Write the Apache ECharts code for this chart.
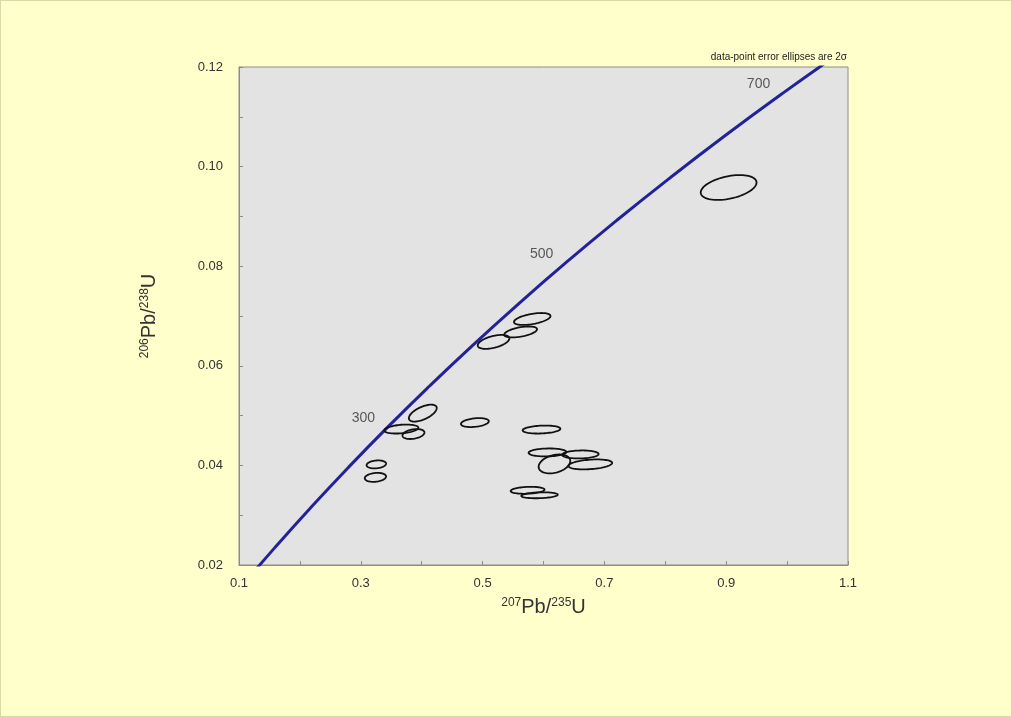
<!DOCTYPE html>
<html>
<head>
<meta charset="utf-8">
<script src="https://cdn.jsdelivr.net/npm/echarts@6/dist/echarts.min.js"></script>
<style>
html,body{margin:0;padding:0;background:#ffffcc;}
#chart{width:1012px;height:717px;box-sizing:border-box;border:1px solid #d9d9a6;}
</style>
</head>
<body>
<div id="chart"></div>
<script>
// Concordia curve points: [207Pb/235U, 206Pb/238U]
const concordiaX = [0.10350,0.15920,0.21771,0.27917,0.34374,0.41156,0.48281,0.55766,0.63628,0.71887,0.80563,0.89677,0.99251,1.09308];
const concordiaY = [0.01563,0.02354,0.03151,0.03954,0.04764,0.05579,0.06402,0.07230,0.08065,0.08906,0.09754,0.10609,0.11470,0.12338];
// Age labels on concordia
const ageLabels = ['300','500','700'];
const ageX = [0.34374,0.63628,0.99251];
const ageY = [0.04764,0.08065,0.11470];
// Error ellipses: centre x, centre y, 2-sigma x, 2-sigma y, correlation
const ellX   = [0.904, 0.5815,0.5624,0.518, 0.4018,0.3665,0.3865,0.3255,0.3240,0.4873,0.5967,0.6065,0.6180,0.6605,0.6768,0.5739,0.5935];
const ellY   = [0.0958,0.0694,0.0668,0.0648,0.0505,0.0473,0.0463,0.0402,0.0376,0.0486,0.0472,0.0426,0.0403,0.0422,0.0402,0.0350,0.0340];
const ellSX  = [0.0458,0.0300,0.0270,0.0260,0.0229,0.0280,0.0180,0.0160,0.0175,0.0229,0.0310,0.0310,0.0260,0.0300,0.0360,0.0278,0.0300];
const ellSY  = [0.0025,0.0012,0.0011,0.0014,0.0017,0.0009,0.0010,0.0008,0.0009,0.0009,0.0008,0.0008,0.0019,0.0008,0.0010,0.0007,0.0006];
const ellRho = [0.4, 0.5, 0.5, 0.5, 0.6, 0.3, 0.3, 0.2, 0.2, 0.3, 0.2, 0.1, 0.3, 0.1, 0.3, 0.2, 0.2];

const curve = concordiaX.map((x,i)=>[x, concordiaY[i]]);
const ages = ageX.map((x,i)=>({value:[x, ageY[i]], name: ageLabels[i]}));
const ells = ellX.map((x,i)=>[x, ellY[i], ellSX[i], ellSY[i], ellRho[i]]);

const chart = echarts.init(document.getElementById('chart'), null, {renderer:'canvas'});
const txt = '#333333';
chart.setOption({
  backgroundColor: '#ffffcc',
  animation: false,
  grid: {left: 238, right: 163, top: 66, bottom: 151, show: true, backgroundColor: '#e3e3e3', borderColor: '#8c8c8c', borderWidth: 1},
  graphic: [{
    type: 'text', right: 164, top: 51,
    style: {text: 'data-point error ellipses are 2σ', fontSize: 10, fill: '#222', fontFamily: 'Liberation Sans, Arial, sans-serif'}
  }],
  xAxis: {
    type: 'value', min: 0.1, max: 1.1, interval: 0.1,
    axisLine: {show: true, onZero: false, lineStyle: {color: '#8c8c8c'}},
    axisTick: {show: true, inside: true, length: 4, lineStyle: {color: '#8c8c8c'}},
    splitLine: {show: false},
    axisLabel: {
      color: txt, fontSize: 13, margin: 12, fontFamily: 'Liberation Sans, Arial, sans-serif',
      formatter: v => (Math.round(v*10) % 2 === 1) ? v.toFixed(1) : ''
    },
    name: '{sup|207}{main|Pb/}{sup|235}{main|U}', nameLocation: 'middle', nameGap: 32,
    nameTextStyle: {
      rich: {
        main: {fontSize: 20, color: txt, fontFamily: 'Liberation Sans, Arial, sans-serif', verticalAlign: 'bottom'},
        sup: {fontSize: 12, color: txt, fontFamily: 'Liberation Sans, Arial, sans-serif', verticalAlign: 'top', padding: [0,0,8,0]}
      }
    }
  },
  yAxis: {
    type: 'value', min: 0.02, max: 0.12, interval: 0.01,
    axisLine: {show: true, onZero: false, lineStyle: {color: '#8c8c8c'}},
    axisTick: {show: true, inside: true, length: 4, lineStyle: {color: '#8c8c8c'}},
    splitLine: {show: false},
    axisLabel: {
      color: txt, fontSize: 13, margin: 16, fontFamily: 'Liberation Sans, Arial, sans-serif',
      formatter: v => (Math.round(v*100) % 2 === 0) ? v.toFixed(2) : ''
    },
    name: '{sup|206}{main|Pb/}{sup|238}{main|U}', nameLocation: 'middle', nameGap: 80, nameRotate: 90,
    nameTextStyle: {
      rich: {
        main: {fontSize: 20, color: txt, fontFamily: 'Liberation Sans, Arial, sans-serif', verticalAlign: 'bottom'},
        sup: {fontSize: 12, color: txt, fontFamily: 'Liberation Sans, Arial, sans-serif', verticalAlign: 'top', padding: [0,0,8,0]}
      }
    }
  },
  series: [
    {
      type: 'line', data: curve, smooth: true, symbol: 'none', clip: true,
      lineStyle: {color: '#22229a', width: 3}, z: 3
    },
    {
      type: 'scatter', data: ages, symbolSize: 0, z: 4,
      label: {
        show: true, formatter: p => p.name, color: txt, fontSize: 14,
        fontFamily: 'Liberation Sans, Arial, sans-serif',
        position: [-24, -9], align: 'center', verticalAlign: 'middle'
      }
    },
    {
      type: 'custom', data: ells, z: 5, clip: true,
      encode: {x: 0, y: 1},
      renderItem: function (params, api) {
        const cx = api.value(0), cy = api.value(1), sx = api.value(2), sy = api.value(3), r = api.value(4);
        const q = Math.sqrt(1 - r*r);
        const pts = [];
        for (let k = 0; k < 72; k++) {
          const t = k / 72 * Math.PI * 2;
          const x = cx + sx * Math.cos(t);
          const y = cy + sy * (r * Math.cos(t) + q * Math.sin(t));
          pts.push(api.coord([x, y]));
        }
        return {type: 'polygon', shape: {points: pts}, style: {fill: 'none', stroke: '#111', lineWidth: 1.8}};
      }
    }
  ]
});
</script>
</body>
</html>
